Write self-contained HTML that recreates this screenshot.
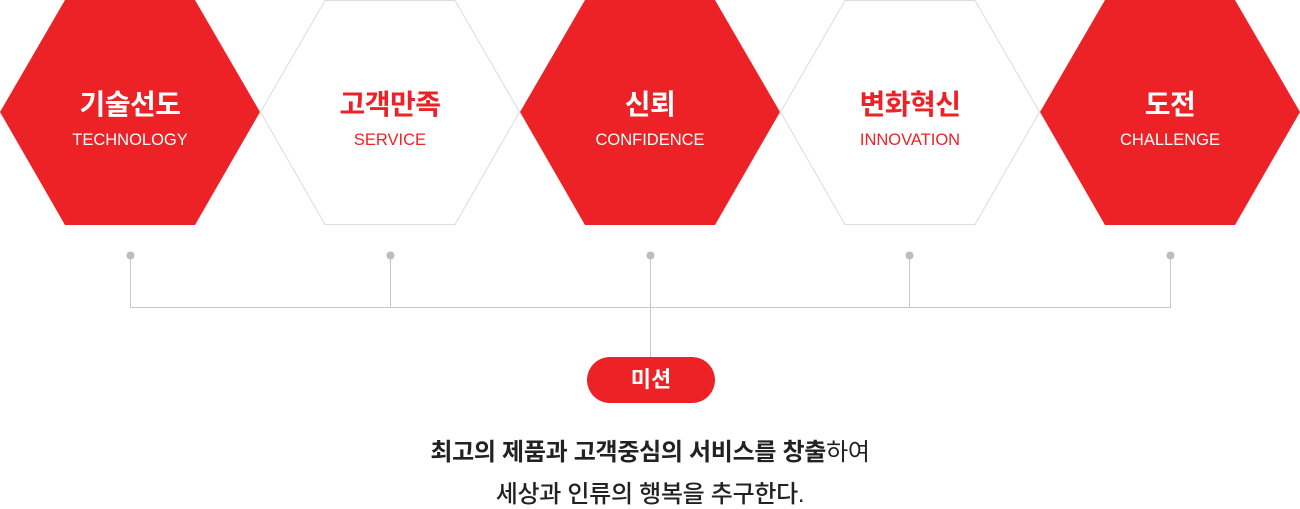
<!DOCTYPE html>
<html><head><meta charset="utf-8"><style>
body{margin:0;width:1300px;height:503px;background:#fff;overflow:hidden;position:relative;font-family:"Liberation Sans","Noto Sans CJK KR",sans-serif}
svg{position:absolute;left:0;top:0}
.t{position:absolute;width:260px;text-align:center}
.h{top:83px;font-size:28px;font-weight:bold;letter-spacing:-0.5px}
.s{top:131px;font-size:16.5px}
.w{color:#fff}.r{color:#ed2227}
.pill{position:absolute;left:587px;top:357px;width:128px;height:46px;border-radius:23px;background:#ed2227;color:#fff;font-size:22px;font-weight:bold;text-align:center;line-height:46px}
.m{position:absolute;left:0;width:1300px;text-align:center;font-size:24px;color:#222;letter-spacing:-0.3px}
</style></head><body>
<svg width="1300" height="503">
<g fill="#ed2227">
<polygon points="0,112 65,0 195,0 260,112 195,225 65,225"/>
<polygon points="520,112 585,0 715,0 780,112 715,225 585,225"/>
<polygon points="1040,112 1105,0 1235,0 1300,112 1235,225 1105,225"/>
</g>
<g fill="#fff" stroke="#dcdcdc" stroke-width="1">
<polygon points="260.5,112 325,0.5 455,0.5 519.5,112 455,224.5 325,224.5"/>
<polygon points="780.5,112 845,0.5 975,0.5 1039.5,112 975,224.5 845,224.5"/>
</g>
<g stroke="#c8c8c8" stroke-width="1" fill="none">
<path d="M130.5 255V307.5H1170.5V255M390.5 255V307.5M909.5 255V307.5M650.5 255V357"/>
</g>
<g fill="#bdbdbd">
<circle cx="130.5" cy="255.5" r="4"/><circle cx="390.5" cy="255.5" r="4"/><circle cx="650.5" cy="255.5" r="4"/><circle cx="909.5" cy="255.5" r="4"/><circle cx="1170.5" cy="255.5" r="4"/>
</g>
</svg>
<div class="t h w" style="left:0">기술선도</div><div class="t s w" style="left:0">TECHNOLOGY</div>
<div class="t h r" style="left:260px">고객만족</div><div class="t s r" style="left:260px">SERVICE</div>
<div class="t h w" style="left:520px">신뢰</div><div class="t s w" style="left:520px">CONFIDENCE</div>
<div class="t h r" style="left:780px">변화혁신</div><div class="t s r" style="left:780px">INNOVATION</div>
<div class="t h w" style="left:1040px">도전</div><div class="t s w" style="left:1040px">CHALLENGE</div>
<div class="pill">미션</div>
<div class="m" style="top:432px"><b>최고의 제품과 고객중심의 서비스를 창출</b>하여</div>
<div class="m" style="top:474px;font-weight:500">세상과 인류의 행복을 추구한다.</div>
</body></html>
